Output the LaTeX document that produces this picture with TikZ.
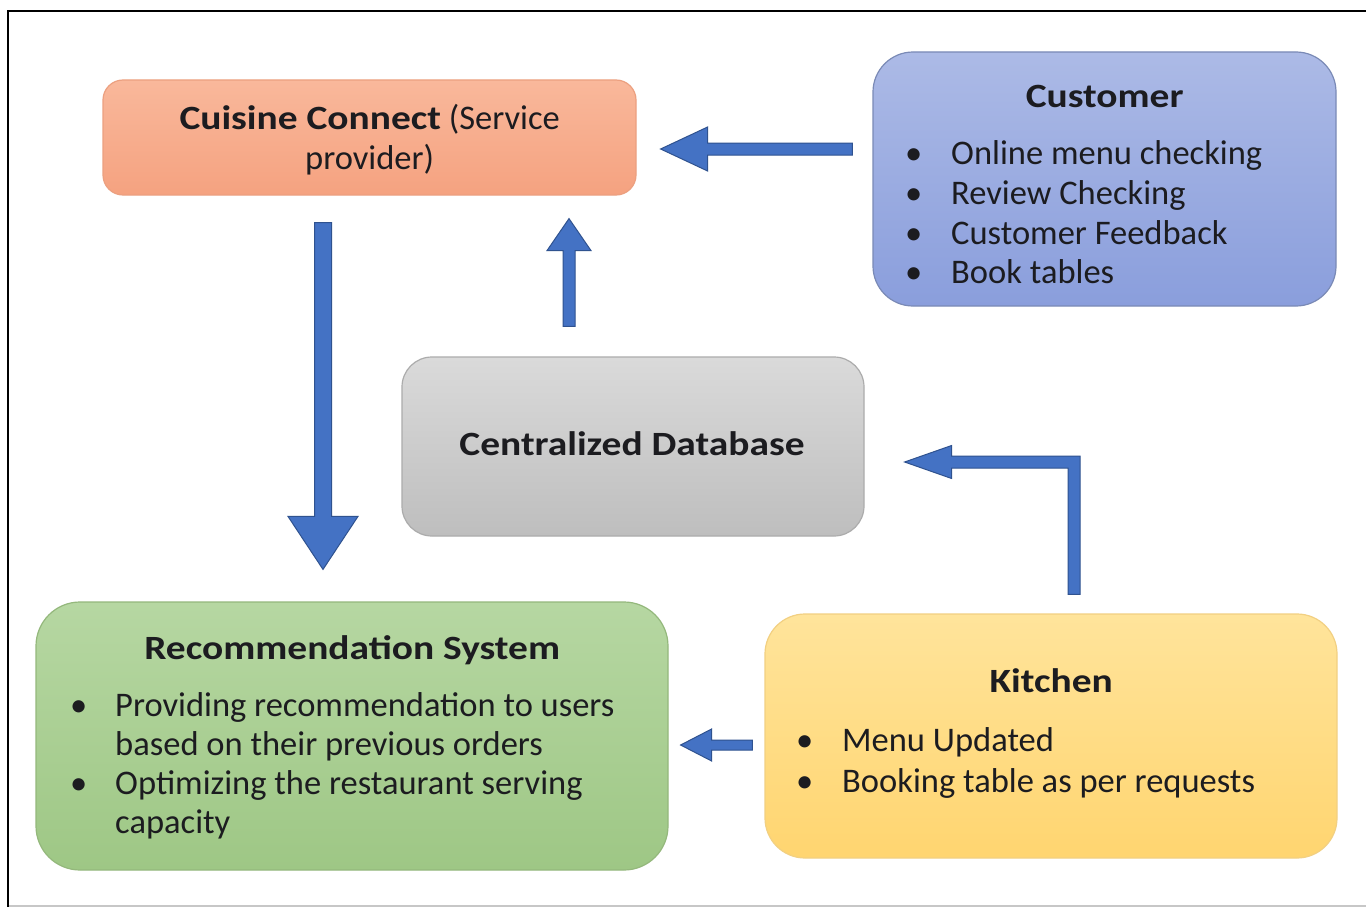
\documentclass[tikz,border=0pt]{standalone}
\usepackage{fontspec}
\setmainfont{Carlito}[BoldFeatures={FakeStretch=1.16}]
\usetikzlibrary{calc}

\definecolor{ink}{RGB}{28,28,32}
\definecolor{arrowblue}{RGB}{68,114,196}
\definecolor{arrowedge}{RGB}{47,82,143}
\definecolor{orangeT}{RGB}{249,184,155}
\definecolor{orangeB}{RGB}{245,162,128}
\definecolor{orangeD}{RGB}{236,160,128}
\definecolor{blueT}{RGB}{172,186,230}
\definecolor{blueB}{RGB}{138,158,220}
\definecolor{blueD}{RGB}{122,138,182}
\definecolor{grayT}{RGB}{218,218,218}
\definecolor{grayB}{RGB}{190,190,190}
\definecolor{grayD}{RGB}{172,172,172}
\definecolor{greenT}{RGB}{182,215,162}
\definecolor{greenB}{RGB}{158,199,133}
\definecolor{greenD}{RGB}{148,184,124}
\definecolor{yellowT}{RGB}{255,228,155}
\definecolor{yellowB}{RGB}{255,213,112}
\definecolor{yellowD}{RGB}{242,208,130}

% text block: first line is the box baseline
\newcommand\cardtext[3]{\vtop{\hsize=#1\relax\parindent=0pt\raggedright
  \fontsize{34.5}{#2}\selectfont #3}}
\newcommand\cardtitle[1]{{\centering\fontsize{34}{40}\selectfont\bfseries #1\par}\vskip 18pt}
\def\bulx{32pt}\def\txtx{78pt}
\newcommand\bitem[1]{\par\noindent\hangindent=\txtx\hangafter=1
  \hbox to \txtx{\hskip\bulx\textbullet\hss}#1\par}

% straight block arrow: tail, tip, shaft half width, head half width, head length
\newcommand\blockarrow[5]{%
  \coordinate (bahead) at ($(#2)!#5!(#1)$);
  \draw[blockarrow] ($(#1)!#3!90:(#2)$) -- ($(bahead)!#3!90:(#2)$)
    -- ($(bahead)!#4!90:(#2)$) -- (#2) -- ($(bahead)!#4!-90:(#2)$)
    -- ($(bahead)!#3!-90:(#2)$) -- ($(#1)!#3!-90:(#2)$) -- cycle;}

\tikzset{
  card/.style={draw, line width=1.2pt, inner sep=0pt},
  cardtxt/.style={anchor=base west, inner sep=0pt, text=ink},
  blockarrow/.style={fill=arrowblue, draw=arrowedge, line width=1pt, line join=miter},
}

\begin{document}
\begin{tikzpicture}[x=1pt,y=-1pt]
\useasboundingbox (0,0) rectangle (1366,907);
\fill[white] (0,0) rectangle (1366,907);

% page frame
\draw[black, line width=2.6pt] (1366,11) -- (8,11) -- (8,907);
\draw[black!22, line width=2pt] (9,906) -- (1366,906);

% boxes
\node[card, rounded corners=20pt, draw=orangeD, top color=orangeT, bottom color=orangeB,
  minimum width=533pt, minimum height=115pt] (cc) at (369.5,137.5) {};
\node[card, rounded corners=40pt, draw=blueD, top color=blueT, bottom color=blueB,
  minimum width=463pt, minimum height=254pt] (cust) at (1104.5,179) {};
\node[card, rounded corners=30pt, draw=grayD, top color=grayT, bottom color=grayB,
  minimum width=462pt, minimum height=179pt] (db) at (633,446.5) {};
\node[card, rounded corners=44pt, draw=greenD, top color=greenT, bottom color=greenB,
  minimum width=632pt, minimum height=268pt] (rec) at (352,736) {};
\node[card, rounded corners=40pt, draw=yellowD, top color=yellowT, bottom color=yellowB,
  minimum width=572pt, minimum height=244pt] (kit) at (1051,736) {};

% texts
\node[cardtxt] (cctxt) at (103,129) {\cardtext{533pt}{40}{\centering
  {\fontsize{34}{40}\selectfont\bfseries Cuisine Connect} (Service\par provider)\par}};
\def\bulx{32pt}\def\txtx{78pt}
\node[cardtxt] (custtxt) at (873,107) {\cardtext{463pt}{39.7}{\cardtitle{Customer}
  \bitem{Online menu checking}
  \bitem{Review Checking}
  \bitem{Customer Feedback}
  \bitem{Book tables}}};
\node[anchor=base, inner sep=0pt, text=ink, font=\fontsize{34}{40}\selectfont\bfseries]
  (dbtxt) at (632,455) {Centralized Database};
\def\bulx{34pt}\def\txtx{79pt}
\node[cardtxt] (rectxt) at (36,659) {\cardtext{632pt}{39}{\cardtitle{Recommendation System}
  \bitem{Providing recommendation to users\newline based on their previous orders}
  \bitem{Optimizing the restaurant serving\newline capacity}}};
\def\bulx{31pt}\def\txtx{77pt}
\node[cardtxt] (kittxt) at (765,692) {\cardtext{572pt}{41}{\cardtitle{Kitchen}
  \bitem{Menu Updated}
  \bitem{Booking table as per requests}}};

% connector end points
\coordinate (a1tail) at ($(cust.west)+(-20,-30)$);
\coordinate (a1tip)  at ($(cc.east)+(24,11.5)$);
\coordinate (a2tail) at ($(cc.south)+(-46.5,27)$);
\coordinate (a2tip)  at ($(rec.north)+(-29,-32)$);
\coordinate (a3tail) at ($(db.north)+(-64,-30)$);
\coordinate (a3tip)  at ($(cc.south)+(199.5,23)$);
\coordinate (a4tail) at ($(kit.north)+(23,-19)$);
\coordinate (a4tip)  at ($(db.east)+(40,15.5)$);
\coordinate (a4bend) at (a4tail |- a4tip);
\coordinate (a5tail) at ($(kit.west)+(-12,9)$);
\coordinate (a5tip)  at ($(rec.east)+(12,9)$);

% connectors
\blockarrow{a1tail}{a1tip}{6pt}{22pt}{47pt}
\blockarrow{a2tail}{a2tip}{8.5pt}{35pt}{53pt}
\blockarrow{a3tail}{a3tip}{6pt}{22pt}{32pt}
\blockarrow{a5tail}{a5tip}{5pt}{16pt}{31pt}
\draw[blockarrow] ($(a4tail)+(6,0)$) -- ($(a4bend)+(6,-6)$) -- ($(a4tip)+(47,-6)$)
  -- ($(a4tip)+(47,-16.5)$) -- (a4tip) -- ($(a4tip)+(47,16.5)$) -- ($(a4tip)+(47,6)$)
  -- ($(a4bend)+(-6,6)$) -- ($(a4tail)+(-6,0)$) -- cycle;
\end{tikzpicture}
\end{document}
